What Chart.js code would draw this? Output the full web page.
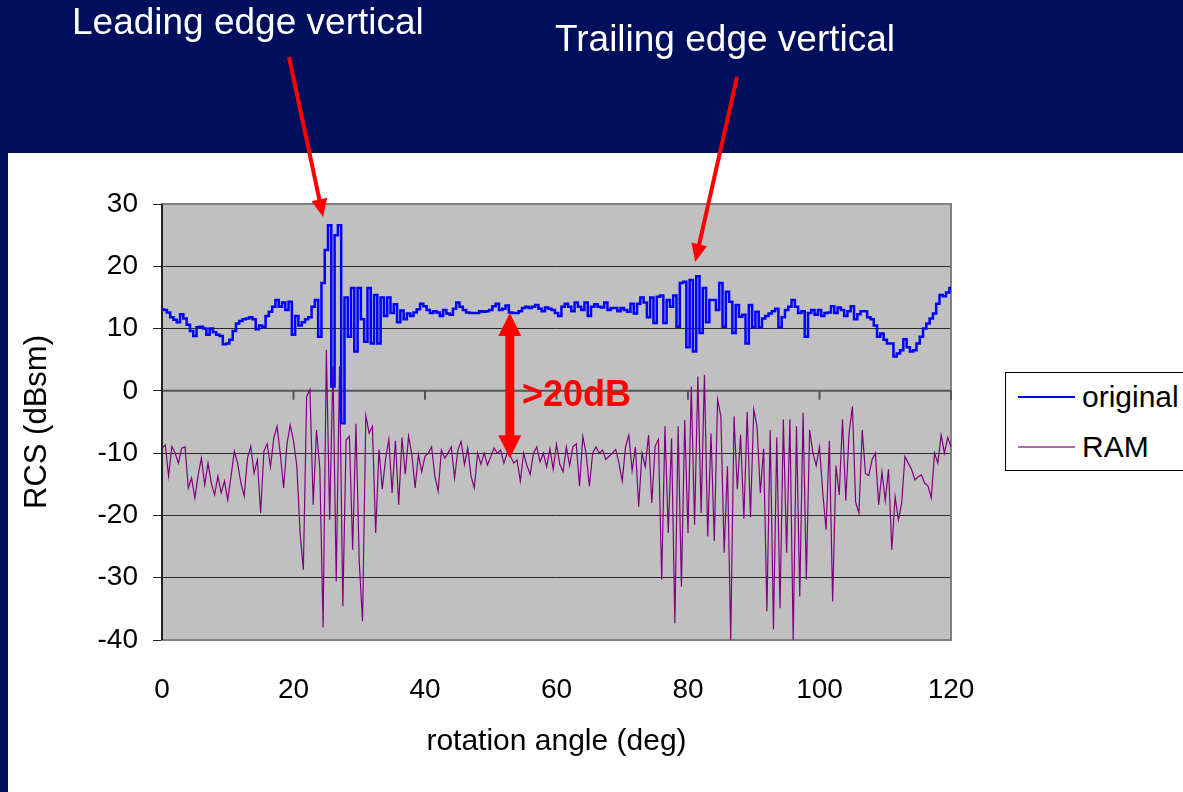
<!DOCTYPE html>
<html>
<head>
<meta charset="utf-8">
<script src="https://cdn.jsdelivr.net/npm/chart.js@4.4.1/dist/chart.umd.min.js"></script>
<style>
  html, body { margin: 0; padding: 0; }
  body { width: 1183px; height: 792px; background: #000f5c; position: relative; overflow: hidden;
         font-family: 'Liberation Sans', Arial, sans-serif; }
  #sheet { position: absolute; left: 8px; top: 153px; right: 0; bottom: 0; background: #fff; }
  #rcsChart { position: absolute; left: 0; top: 0; }
  .note { position: absolute; color: #fff; font-size: 37px; line-height: 37px; white-space: nowrap; }
  #gap { position: absolute; left: 522px; top: 376px; color: #ff0000; font-weight: bold; font-size: 36px; line-height: 36px; }
  #legend { position: absolute; left: 1005px; top: 372px; width: 200px; height: 97px;
            border: 1px solid #000; background: #fff; }
  #legend .row { position: absolute; left: 12px; height: 30px; display: flex; align-items: center;
                 font-size: 30px; line-height: 30px; color: #000; }
  #legend .swatch { display: inline-block; width: 57px; margin-right: 7px; }
</style>
</head>
<body>
<div id="sheet"></div>
<canvas id="rcsChart" width="1183" height="792"></canvas>
<div class="note" style="left:72px; top:3px;">Leading edge vertical</div>
<div class="note" style="left:555px; top:20px;">Trailing edge vertical</div>
<div id="gap">&gt;20dB</div>
<div id="legend"></div>

<script>
// ── RCS vs rotation angle, sampled every 0.5 deg ──

const SERIES_NAMES = ["original", "RAM"];
const X_TICKS = [0, 20, 40, 60, 80, 100, 120];
const Y_TICKS = [-40, -30, -20, -10, 0, 10, 20, 30];

const ORIGINAL = [
  13.1, 13.0, 12.6, 11.8, 11.4, 11.0, 12.3, 11.6, 10.6, 9.6, 8.8,
  10.2, 10.3, 10.0, 9.0, 10.0, 9.4, 9.0, 8.8, 7.5, 7.6,
  8.2, 9.6, 10.8, 11.2, 11.5, 11.6, 11.8, 11.5, 9.9, 10.5,
  10.2, 12.0, 12.7, 13.5, 14.6, 13.5, 14.2, 13.0, 14.3, 9.0,
  12.0, 10.5, 11.0, 11.5, 11.8, 13.5, 14.6, 8.7, 17.3, 22.6,
  26.6, 0.7, 25.0, 26.6, -5.2, 15.0, 8.7, 16.5, 6.3, 16.5,
  11.5, 7.9, 16.5, 7.6, 15.4, 7.6, 15.0, 12.0, 15.0, 12.5,
  13.9, 11.0, 12.9, 11.5, 12.4, 12.0, 12.6, 13.1, 14.0, 13.6,
  13.0, 12.5, 12.8, 12.6, 12.0, 13.0, 12.4, 12.2, 13.2, 14.2,
  13.5, 13.0, 12.6, 12.5, 12.5, 12.5, 12.8, 12.7, 12.8, 13.0,
  13.6, 14.0, 13.0, 13.2, 13.7, 12.6, 12.5, 12.5, 12.8, 13.3,
  13.5, 13.3, 13.5, 13.8, 13.2, 12.8, 13.4, 13.2, 13.0, 12.5,
  12.0, 13.5, 14.0, 13.5, 12.8, 14.2, 13.5, 13.0, 14.2, 12.0,
  13.5, 13.9, 13.5, 13.4, 14.2, 13.0, 13.3, 13.3, 12.8, 13.3,
  13.0, 12.7, 14.0, 12.4, 14.0, 15.0, 14.2, 11.8, 15.0, 10.9,
  15.1, 15.3, 10.9, 14.6, 13.5, 15.3, 10.3, 17.3, 17.5, 7.0,
  17.8, 6.3, 18.4, 9.3, 16.5, 11.0, 14.6, 14.6, 13.0, 17.3,
  10.3, 15.9, 14.3, 9.3, 13.8, 11.9, 12.2, 7.6, 13.8, 10.2,
  12.7, 10.2, 11.6, 12.0, 12.4, 12.8, 13.2, 10.2, 11.8, 13.0,
  13.5, 14.6, 13.5, 12.5, 12.8, 8.7, 12.5, 13.0, 12.2, 13.0,
  12.0, 12.5, 12.6, 13.6, 12.5, 13.4, 13.0, 12.0, 12.8, 13.6,
  11.5, 12.3, 12.8, 12.8, 11.8, 11.5, 10.5, 8.7, 9.2, 8.2,
  7.6, 7.6, 5.5, 6.0, 6.5, 8.3, 7.0, 6.3, 6.5, 7.6,
  8.7, 10.0, 10.8, 11.6, 12.4, 14.0, 15.4, 15.2, 15.8, 16.5
];

const RAM = [
  -9.2, -8.7, -13.7, -8.9, -10.0, -11.6, -9.2, -9.0, -15.6, -14.0, -17.2,
  -13.5, -10.8, -15.1, -11.6, -14.8, -16.7, -13.7, -16.4, -14.5, -17.5,
  -13.7, -9.7, -11.6, -14.8, -16.9, -10.8, -8.9, -13.2, -11.1, -19.6,
  -9.7, -8.5, -12.2, -7.6, -5.7, -10.2, -15.6, -8.6, -5.5, -8.0,
  -12.0, -22.8, -28.7, -0.9, 0.2, -18.3, -6.3, -12.4, -38.0, 6.6,
  -20.7, 3.9, -30.6, 3.9, -34.6, -7.9, -7.3, -25.5, -5.3, -27.4,
  -37.0, -4.0, -6.8, -5.7, -22.8, -9.4, -15.8, -11.0, -7.8, -16.4,
  -8.0, -18.3, -7.5, -13.4, -7.3, -10.2, -15.6, -10.2, -13.0, -10.5,
  -10.0, -9.0, -13.7, -16.1, -9.5, -10.8, -10.0, -9.0, -14.0, -9.5,
  -8.1, -11.8, -9.2, -13.7, -15.6, -10.0, -11.8, -10.0, -11.9, -10.6,
  -9.2, -10.0, -9.5, -11.6, -10.0, -10.5, -11.6, -11.1, -14.5, -10.0,
  -12.0, -13.4, -10.0, -9.0, -11.4, -10.0, -12.2, -9.3, -12.6, -8.6,
  -11.8, -13.0, -9.0, -12.0, -9.0, -8.5, -15.3, -7.3, -10.0, -15.3,
  -10.0, -9.0, -10.0, -9.5, -11.0, -10.5, -10.0, -9.4, -11.6, -14.5,
  -9.0, -7.1, -12.8, -9.0, -18.6, -10.0, -12.2, -7.1, -18.0, -8.9,
  -7.8, -30.3, -5.7, -22.8, -7.6, -37.3, -5.7, -31.4, -4.7, -22.8,
  0.7, -21.5, 2.3, -19.6, 2.6, -23.4, -6.8, -24.1, -1.4, -4.1,
  -26.0, -12.1, -40.0, -4.1, -15.8, -7.0, -20.5, -3.4, -20.3, -3.0,
  -5.7, -16.4, -9.3, -35.4, -6.3, -38.3, -7.5, -34.9, -4.6, -26.0,
  -4.6, -40.0, -5.7, -33.0, -3.5, -30.3, -6.3, -10.0, -12.0, -9.0,
  -16.4, -22.3, -8.0, -33.8, -12.0, -16.7, -4.6, -17.6, -6.8, -2.5,
  -17.9, -19.6, -6.3, -13.3, -13.6, -11.0, -10.0, -18.3, -13.0, -17.6,
  -12.6, -25.5, -17.0, -20.7, -18.0, -10.5, -11.6, -12.6, -14.3, -13.8,
  -13.5, -14.8, -15.3, -17.2, -10.0, -11.6, -7.1, -10.0, -7.5, -9.0
];

// sampling grid of the measurement (deg)
const ANGLES = ORIGINAL.map((_, i) => i * 0.5);

// annotation anchors: [angle, dBsm]
const LEADING_TIP = [24.5, 27.9];
const TRAILING_TIP = [81.1, 20.7];
const GAP_TOP = [52.9, 12.5];
const GAP_BOTTOM = [52.9, -10.8];

const CHART_DEFAULTS = {
  color: { original: '#0000ff', ram: '#800080', red: '#ff0000', plot: '#c0c0c0', frame: '#808080' },
  font: "'Liberation Sans', Arial, sans-serif",
};

// ── helpers ──
function arrowHead(ctx, x0, y0, x1, y1, len, half) {
  const a = Math.atan2(y1 - y0, x1 - x0);
  ctx.beginPath();
  ctx.moveTo(x1, y1);
  ctx.lineTo(x1 - len * Math.cos(a) + half * Math.sin(a), y1 - len * Math.sin(a) - half * Math.cos(a));
  ctx.lineTo(x1 - len * Math.cos(a) - half * Math.sin(a), y1 - len * Math.sin(a) + half * Math.cos(a));
  ctx.closePath();
  ctx.fill();
}

function pointer(ctx, x0, y0, x1, y1) {
  const a = Math.atan2(y1 - y0, x1 - x0);
  ctx.lineWidth = 4;
  ctx.beginPath();
  ctx.moveTo(x0, y0);
  ctx.lineTo(x1 - 14 * Math.cos(a), y1 - 14 * Math.sin(a));
  ctx.stroke();
  arrowHead(ctx, x0, y0, x1, y1, 18, 8);
}

// ── plot area background, frame, zero axis, red annotations ──
const slidePlugin = {
  id: 'slide',
  beforeDraw(chart) {
    const { ctx, chartArea: a } = chart;
    ctx.save();
    ctx.fillStyle = CHART_DEFAULTS.color.plot;
    ctx.fillRect(a.left, a.top, a.right - a.left, a.bottom - a.top);
    ctx.restore();
  },
  beforeDatasetsDraw(chart) {
    const { ctx, chartArea: a, scales: { x, y } } = chart;
    ctx.save();
    ctx.strokeStyle = CHART_DEFAULTS.color.frame;
    ctx.lineWidth = 2;
    ctx.strokeRect(a.left, a.top, a.right - a.left, a.bottom - a.top);
    // x axis crosses at 0 dBsm
    const y0 = y.getPixelForValue(0);
    ctx.strokeStyle = '#555';
    ctx.lineWidth = 2;
    ctx.beginPath();
    ctx.moveTo(a.left, y0);
    ctx.lineTo(a.right, y0);
    X_TICKS.forEach(v => {
      const px = x.getPixelForValue(v);
      ctx.moveTo(px, y0);
      ctx.lineTo(px, y0 + 9);
    });
    ctx.stroke();
    // y axis line
    ctx.strokeStyle = '#222';
    ctx.beginPath();
    ctx.moveTo(a.left, a.top);
    ctx.lineTo(a.left, a.bottom);
    ctx.stroke();
    ctx.restore();
  },
  afterDraw(chart) {
    const { ctx, scales: { x, y } } = chart;
    ctx.save();
    ctx.strokeStyle = CHART_DEFAULTS.color.red;
    ctx.fillStyle = CHART_DEFAULTS.color.red;
    pointer(ctx, 289, 57, x.getPixelForValue(LEADING_TIP[0]), y.getPixelForValue(LEADING_TIP[1]));
    pointer(ctx, 737, 77, x.getPixelForValue(TRAILING_TIP[0]), y.getPixelForValue(TRAILING_TIP[1]));

    // double arrow for the level gap
    const gx = x.getPixelForValue(GAP_TOP[0]);
    const gt = y.getPixelForValue(GAP_TOP[1]);
    const gb = y.getPixelForValue(GAP_BOTTOM[1]);
    ctx.fillRect(gx - 4.5, gt + 20, 9, gb - gt - 40);
    arrowHead(ctx, gx, gb, gx, gt, 23, 11.5);
    arrowHead(ctx, gx, gt, gx, gb, 23, 11.5);
    ctx.restore();
  }
};

// ── RCS line chart ──
function buildRcsChart() {
  const ctx = document.getElementById('rcsChart');
  if (!ctx) return;

  new Chart(ctx, {
    type: 'line',
    data: {
      datasets: [
        {
          label: SERIES_NAMES[0],
          data: ANGLES.map((a, i) => ({ x: a, y: ORIGINAL[i] })),
          borderColor: CHART_DEFAULTS.color.original,
          borderWidth: 2.5,
          pointRadius: 0,
          stepped: 'middle',
        },
        {
          label: SERIES_NAMES[1],
          data: ANGLES.map((a, i) => ({ x: a, y: RAM[i] })),
          borderColor: CHART_DEFAULTS.color.ram,
          borderWidth: 1.2,
          pointRadius: 0,
          tension: 0,
        },
      ]
    },
    options: {
      responsive: false,
      animation: false,
      events: [],
      layout: { padding: { top: 204, right: 232, left: 0, bottom: 0 } },
      plugins: {
        legend: { display: false },
        tooltip: { enabled: false },
      },
      scales: {
        x: {
          type: 'linear',
          min: 0, max: 120,
          afterFit: s => { s.height = 152; },
          afterBuildTicks: s => { s.ticks = X_TICKS.map(v => ({ value: v })); },
          grid: { display: false, drawTicks: false },
          border: { display: false },
          ticks: { color: '#000', padding: 33, maxRotation: 0, font: { family: CHART_DEFAULTS.font, size: 28 } },
          title: {
            display: true, text: 'rotation angle (deg)', color: '#000',
            padding: { top: 0, bottom: 32 },
            font: { family: CHART_DEFAULTS.font, size: 30 },
          },
        },
        y: {
          min: -40, max: 30,
          afterFit: s => { s.width = 162; },
          afterBuildTicks: s => { s.ticks = Y_TICKS.map(v => ({ value: v })); },
          grid: { color: '#2a2a2a', lineWidth: 1, tickLength: 9, tickColor: '#222' },
          border: { display: false },
          ticks: { color: '#000', padding: 15, font: { family: CHART_DEFAULTS.font, size: 28 } },
          title: {
            display: true, text: 'RCS (dBsm)', color: '#000',
            padding: { top: 19, bottom: 0 },
            font: { family: CHART_DEFAULTS.font, size: 31 },
          },
        }
      }
    },
    plugins: [slidePlugin]
  });

  // Custom legend
  const legend = document.getElementById('legend');
  const colors = [CHART_DEFAULTS.color.original, 'rgba(128,0,128,0.6)'];
  const tops = [9, 59];
  SERIES_NAMES.forEach((name, i) => {
    legend.innerHTML += `
      <div class="row" style="top:${tops[i]}px">
        <span class="swatch" style="border-top:2px solid ${colors[i]}"></span><span>${name}</span>
      </div>`;
  });
}

document.addEventListener('DOMContentLoaded', buildRcsChart);
</script>
</body>
</html>
